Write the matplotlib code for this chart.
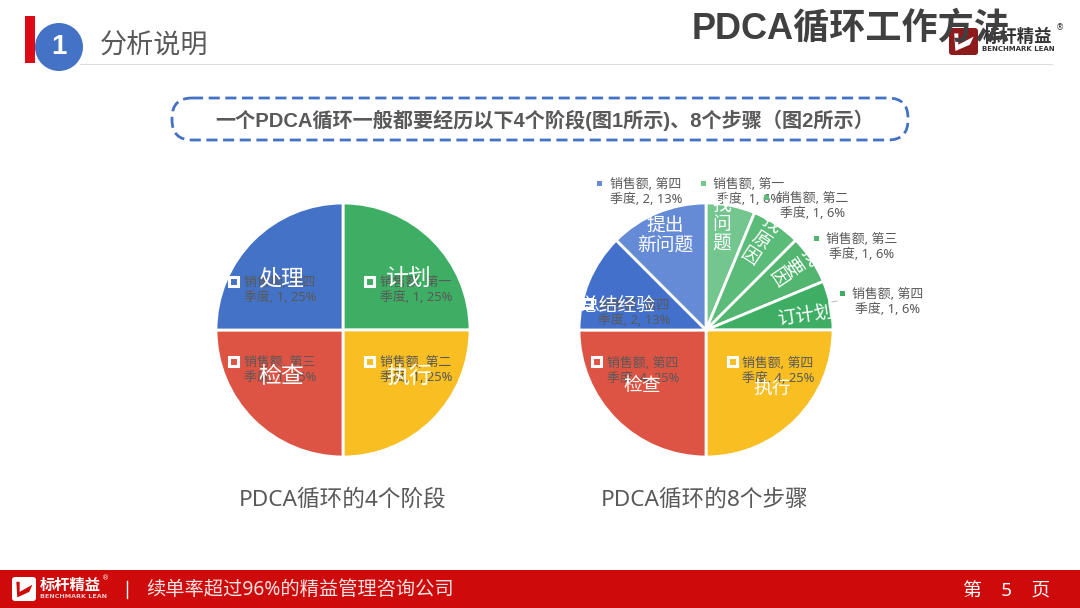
import matplotlib
matplotlib.use("Agg")
import matplotlib.pyplot as plt
from matplotlib.patches import Rectangle, Circle, FancyBboxPatch, Polygon

plt.rcParams['font.family'] = ['Noto Sans', 'Noto Sans CJK SC', 'DejaVu Sans']
BOLD_FONTS = ['Liberation Sans', 'Noto Sans CJK SC', 'DejaVu Sans']

# ---- data ----
stage_names = ['计划', '执行', '检查', '处理']
stage_values = [1, 1, 1, 1]
stage_quarters = ['第一', '第二', '第三', '第四']
stage_pcts = [25, 25, 25, 25]

step_names = ['找\n问\n题', '找\n原\n因', '找\n要\n因', '订计划', '执行', '检查', '总结经验', '提出\n新问题']
step_values = [1, 1, 1, 1, 4, 4, 2, 2]
step_quarters = ['第一', '第二', '第三', '第四', '第四', '第四', '第四', '第四']
step_pcts = [6, 6, 6, 6, 25, 25, 13, 13]

heading = '分析说明'
title = 'PDCA循环工作方法'
banner = '一个PDCA循环一般都要经历以下4个阶段(图1所示)、8个步骤（图2所示）'
caption_stage = 'PDCA循环的4个阶段'
caption_step = 'PDCA循环的8个步骤'
footer = '续单率超过96%的精益管理咨询公司'

# ---- styles / layout (pixels) ----
W, H = 1080, 608
stage_colors = ['#3DAE63', '#F8BE22', '#DD5444', '#4472C6']
step_colors = ['#74C68F', '#5BBB78', '#52B570', '#3DAE63', '#F8BE22', '#DD5444', '#4270CB', '#668BD6']
GREY = '#595959'
RED = '#CE0A0A'

stage_name_pos = [(409, 279), (409, 377), (281, 377), (281, 279)]
stage_label_pos = [(416, 290), (416, 370), (280, 370), (280, 290)]
stage_key_pos = [(369, 281), (369, 361), (233, 361), (233, 281)]

step_name_pos = [(722, 225), (760, 241), (793, 268), (805, 316), (772, 390), (642, 386), (618, 306), (665, 236)]
step_name_rot = [0, -33, -56, 8, 0, 0, 0, 0]
step_label_pos = [(749, 192), (813, 206), (862, 247), (888, 302), (778, 371), (643, 371), (634, 313), (646, 192)]
step_key_pos = [(703, 183), (766, 197), (816, 238), (842, 293), (732, 361), (596, 361), (587, 303), (599, 183)]
step_key_inside = [False, False, False, False, True, True, True, False]


def pie_axes(cx, cy, r):
    a = fig.add_axes([(cx - r) / W, 1 - (cy + r) / H, 2 * r / W, 2 * r / H])
    a.set_zorder(1)
    return a


def draw_pie(a, values, colors):
    a.pie(values, colors=colors, startangle=90, counterclock=False, radius=1,
          wedgeprops=dict(edgecolor='white', linewidth=2))
    a.set_xlim(-1, 1)
    a.set_ylim(-1, 1)
    a.axis('off')


def key(x, y, color, inside):
    if inside:
        ov.add_patch(Rectangle((x - 4.5, y - 4.5), 9, 9, fc=color, ec='white', lw=2.2, zorder=4))
    else:
        ov.add_patch(Rectangle((x - 2.5, y - 2.5), 5, 5, fc=color, ec='none', zorder=4))


def data_label(x, y, quarter, value, pct):
    ov.text(x, y, f'销售额, {quarter}\n季度, {value}, {pct}%', ha='center', va='center',
            fontsize=9.3, color=GREY, linespacing=1.2, zorder=3)


def logo_mark(x, y, w, h, bg, fg):
    ov.add_patch(FancyBboxPatch((x + 2, y + 2), w - 4, h - 4, boxstyle='round,pad=2,rounding_size=3',
                                fc=bg, ec='none', zorder=2))
    ov.add_patch(Polygon([(x + .18 * w, y + .2 * h), (x + .32 * w, y + .2 * h), (x + .32 * w, y + .62 * h),
                          (x + .85 * w, y + .32 * h), (x + .72 * w, y + .62 * h), (x + .22 * w, y + .85 * h)],
                         closed=True, fc=fg, ec='none', zorder=2))


fig = plt.figure(figsize=(W / 100, H / 100), dpi=100, facecolor='white')

draw_pie(pie_axes(343, 330, 127), stage_values, stage_colors)
draw_pie(pie_axes(706, 330, 127), step_values, step_colors)

ov = fig.add_axes([0, 0, 1, 1], facecolor='none')
ov.set_zorder(2)
ov.set_xlim(0, W)
ov.set_ylim(H, 0)
ov.axis('off')

# header
ov.add_patch(Rectangle((25, 16), 10, 47, fc='#DE0A17', ec='none', zorder=2))
ov.add_patch(Circle((59, 47), 24, fc='#4472C4', ec='none', zorder=3))
ov.text(59, 47, '1', ha='center', va='center', fontsize=20, fontweight='bold', family=BOLD_FONTS,
        color='white', zorder=4)
ov.plot([80, 1052], [64, 64], color='#DDDDDD', lw=0.8, zorder=1)
ov.text(100, 47, heading, ha='left', va='center', fontsize=19.5, color=GREY, zorder=4)

logo_mark(949, 28, 29, 27, '#8E1B1B', 'white')
ov.text(983, 37, '标杆精益', ha='left', va='center', fontsize=12.5, fontweight='bold', color='#333333', zorder=2)
ov.text(982, 49, 'BENCHMARK LEAN', ha='left', va='center', fontsize=5, fontweight='bold',
        family='DejaVu Sans', color='#333333', zorder=2)
ov.text(1060, 28, '®', ha='center', va='center', fontsize=6, family='DejaVu Sans', color='#333333', zorder=2)
ov.text(851, 29, title, ha='center', va='center', fontsize=26, fontweight='bold', family=BOLD_FONTS,
        color='#404040', zorder=5)

# banner
ov.add_patch(FancyBboxPatch((172, 98), 736, 42, boxstyle='round,pad=0,rounding_size=20',
                            fc='white', ec='#4472C4', lw=2, linestyle=(0, (4, 2)), zorder=2))
ov.text(545, 120, banner, ha='center', va='center', fontsize=14.5, fontweight='bold', family=BOLD_FONTS,
        color=GREY, zorder=3)

# first pie labels
for i, name in enumerate(stage_names):
    key(*stage_key_pos[i], stage_colors[i], True)
    data_label(*stage_label_pos[i], stage_quarters[i], stage_values[i], stage_pcts[i])
    ov.text(*stage_name_pos[i], name, ha='center', va='center', fontsize=16.5, color='white', zorder=5)

# second pie labels
for i, name in enumerate(step_names):
    key(*step_key_pos[i], step_colors[i], step_key_inside[i])
    data_label(*step_label_pos[i], step_quarters[i], step_values[i], step_pcts[i])
    ov.text(*step_name_pos[i], name, ha='center', va='center', fontsize=13.5, color='white',
            rotation=step_name_rot[i], rotation_mode='anchor', linespacing=1.05, zorder=5)
ov.plot([832, 837], [302, 301], color='#BFBFBF', lw=0.8, zorder=2)

# captions
ov.text(343, 500, caption_stage, ha='center', va='center', fontsize=16.3, color=GREY)
ov.text(705, 500, caption_step, ha='center', va='center', fontsize=16.3, color=GREY)

# footer
ov.add_patch(Rectangle((0, 570), W, 38, fc=RED, ec='none', zorder=1))
logo_mark(12, 577, 24, 24, 'white', RED)
ov.text(40, 586, '标杆精益', ha='left', va='center', fontsize=11, fontweight='bold', color='white', zorder=2)
ov.text(40, 597, 'BENCHMARK LEAN', ha='left', va='center', fontsize=4.6, family='DejaVu Sans',
        fontweight='bold', color='#F3C9C9', zorder=2)
ov.text(106, 578, '®', ha='center', va='center', fontsize=5, family='DejaVu Sans', color='white', zorder=2)
ov.plot([127, 127], [581, 598], color='white', lw=1, zorder=2)
ov.text(146, 590, footer, ha='left', va='center', fontsize=13.9, color='#F7E3E3', zorder=2)
ov.text(1007, 592, '第    5    页', ha='center', va='center', fontsize=13.5, color='white', zorder=2)

fig.savefig('out.png', dpi=100, facecolor='white')
